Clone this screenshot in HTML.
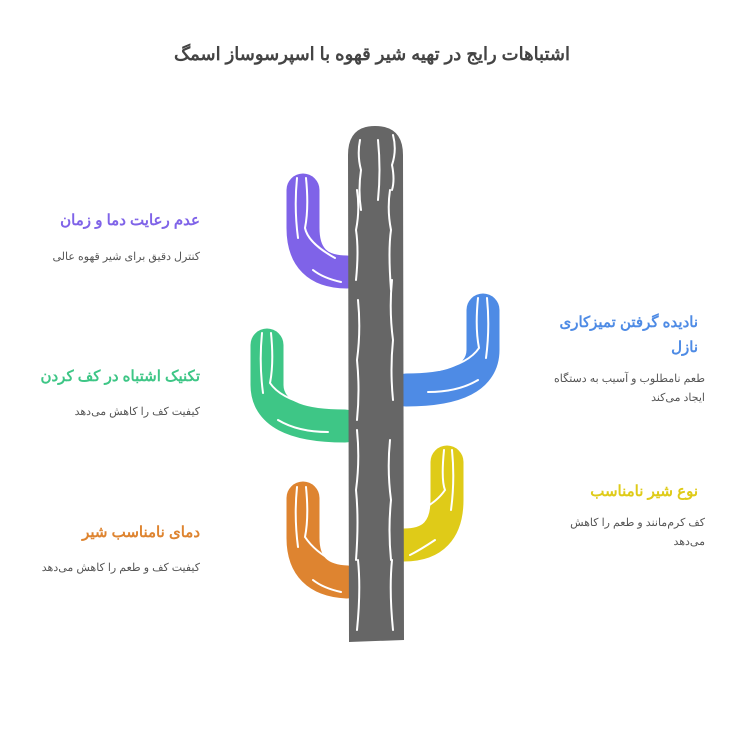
<!DOCTYPE html>
<html><head><meta charset="utf-8"><style>
body{margin:0;width:744px;height:753px;background:#fff;position:relative;overflow:hidden;font-family:"Liberation Sans","Noto Sans CJK SC",sans-serif}
.t{position:absolute;direction:rtl;text-align:right}
.h{font-weight:bold;font-size:15px;line-height:25px}
.d{font-size:11px;color:#555;line-height:19px}
</style></head><body>
<div class="t" style="left:100px;width:544px;top:44px;text-align:center;font-size:18px;font-weight:bold;color:#444">اشتباهات رایج در تهیه شیر قهوه با اسپرسوساز اسمگ</div>

<svg width="744" height="753" style="position:absolute;left:0;top:0">
<g fill="none" stroke-width="33" stroke-linecap="round">
<path d="M303,190 V228 Q303,272 347,272" stroke="#7f63e8"/>
<path d="M267,345 V385 Q267,426 345,426" stroke="#3ec686"/>
<path d="M483,310 V350 Q483,390 406,390" stroke="#4e8be5"/>
<path d="M303,498 V538 Q303,580 347,582" stroke="#de8430"/>
<path d="M447,462 V500 Q447,545 404,545" stroke="#dfcb18"/>
</g>
<path d="M348,155 Q348,126 375,126 Q403,126 403,155 L404,640 L349,642 Z" fill="#666"/>
<g fill="none" stroke="#fff" stroke-width="2" stroke-linecap="round">
<path d="M360,140 q-3,15 1,30 q-3,20 0,40 M393,135 q4,15 -1,30 q3,15 0,25 M357,190 q3,20 -1,40 q3,20 0,50 M390,190 q-3,20 1,40 q-3,20 0,60 M358,300 q3,30 -1,60 q3,30 0,60 M392,280 q-3,30 1,60 q-3,30 0,60 M357,430 q3,30 -1,60 q3,30 0,70 M390,440 q-3,30 1,60 q-3,30 0,60 M358,560 q3,30 -1,70 M392,560 q-3,30 1,70 M378,140 q3,30 0,60"/>
<path d="M297,178 q-3,30 1,60 M306,178 q3,30 -1,50 q3,15 30,30 M313,270 q10,8 28,12"/>
<path d="M262,333 q-3,30 1,60 M271,333 q3,30 -1,50 q10,15 40,22 M278,420 q20,12 50,12"/>
<path d="M487,298 q3,30 -1,60 M478,298 q-3,30 1,50 q-10,15 -40,22 M478,380 q-20,12 -50,12"/>
<path d="M297,487 q-3,30 1,60 M306,487 q3,30 -1,50 q10,15 30,25 M313,580 q10,8 28,12"/>
<path d="M452,450 q3,30 -1,60 M444,450 q-3,30 1,40 q-10,15 -35,25 M435,540 q-15,10 -25,15"/>
</g>
</svg>

<div class="t h" style="left:20px;width:180px;top:208px;color:#7f63e8">عدم رعایت دما و زمان</div>
<div class="t d" style="left:20px;width:180px;top:248px">کنترل دقیق برای شیر قهوه عالی</div>
<div class="t h" style="left:10px;width:190px;top:364px;color:#3ec686">تکنیک اشتباه در کف کردن</div>
<div class="t d" style="left:10px;width:190px;top:403px">کیفیت کف را کاهش می‌دهد</div>
<div class="t h" style="left:10px;width:190px;top:520px;color:#de8430">دمای نامناسب شیر</div>
<div class="t d" style="left:10px;width:190px;top:559px">کیفیت کف و طعم را کاهش می‌دهد</div>

<div class="t h" style="left:548px;width:150px;top:310px;color:#4e8be5">نادیده گرفتن تمیزکاری نازل</div>
<div class="t d" style="left:548px;width:157px;top:370px">طعم نامطلوب و آسیب به دستگاه ایجاد می‌کند</div>
<div class="t h" style="left:548px;width:150px;top:479px;color:#dfcb18">نوع شیر نامناسب</div>
<div class="t d" style="left:548px;width:157px;top:514px">کف کرم‌مانند و طعم را کاهش می‌دهد</div>
</body></html>
